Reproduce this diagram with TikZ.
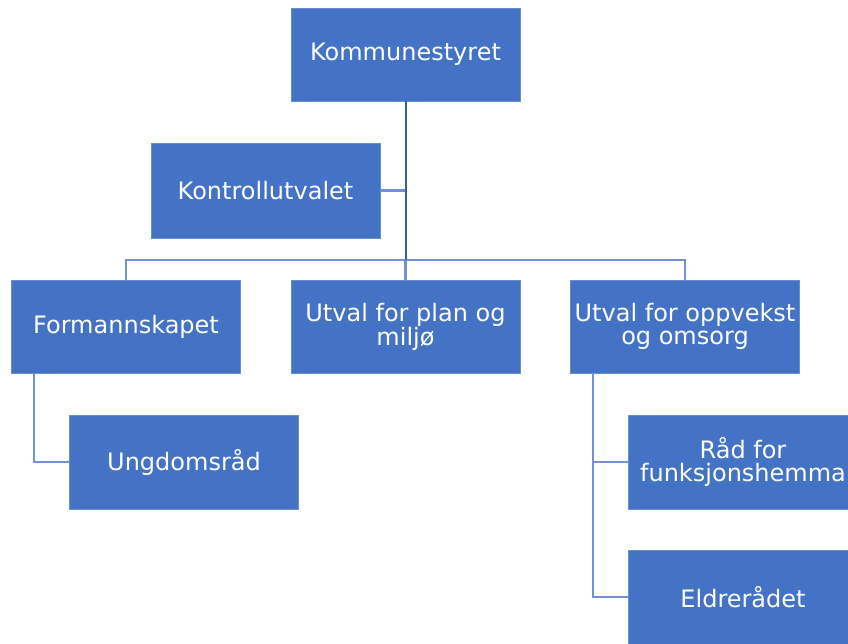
\documentclass[tikz,border=0pt]{standalone}
\usepackage{fontspec}
\setmainfont{DejaVu Sans}
\usetikzlibrary{calc}
\definecolor{boxblue}{RGB}{68,114,196}
\definecolor{trunk}{RGB}{60,90,160}
\definecolor{branch}{RGB}{115,145,208}
\tikzset{
  orgbox/.style={rectangle, fill=boxblue, draw=boxblue!80!white, line width=0.6pt, text=white,
    minimum width=229pt, minimum height=93pt, inner sep=0pt, align=center,
    font=\fontsize{24}{23}\selectfont},
  trunkline/.style={draw=trunk, line width=2pt},
  branchline/.style={draw=branch, line width=2.4pt}
}
\begin{document}
\begin{tikzpicture}[x=1pt,y=-1pt]
\useasboundingbox (0,0) rectangle (848,644);
\begin{scope}
\clip (0,0) rectangle (848,644);
\node[orgbox] (komm) at (405.5,54.5) {Kommunestyret};
\node[orgbox, minimum height=95pt] (kontroll) at (265.5,190.5) {Kontrollutvalet};
\node[orgbox] (form) at (126,326.5) {Formannskapet};
\node[orgbox] (plan) at (405.5,326.5) {Utval for plan og\\miljø};
\node[orgbox] (opp) at (685,326.5) {Utval for oppvekst\\og omsorg};
\node[orgbox, minimum height=94pt] (ungdom) at (184,462) {Ungdomsråd};
\node[orgbox, minimum height=94pt] (raad) at (743,462) {Råd for\\funksjonshemma};
\node[orgbox, minimum height=94pt] (eldre) at (743,597) {Eldrerådet};
\coordinate (bus) at (405.5,260);
\coordinate (fdrop) at ($(form.south west)+(23,0)$);
\coordinate (odrop) at ($(opp.south west)+(23,0)$);
\draw[branchline] (kontroll.east) -- (kontroll.east -| komm.south);
\draw[branchline] (form.north) |- (bus) -| (opp.north);
\draw[branchline] (plan.north) -- (plan.north |- bus);
\draw[trunkline] (komm.south) -- (bus);
\draw[branchline] (fdrop) |- (ungdom.west);
\draw[branchline] (odrop) |- (eldre.west);
\draw[branchline] (odrop |- raad.west) -- (raad.west);
\end{scope}
\end{tikzpicture}
\end{document}
